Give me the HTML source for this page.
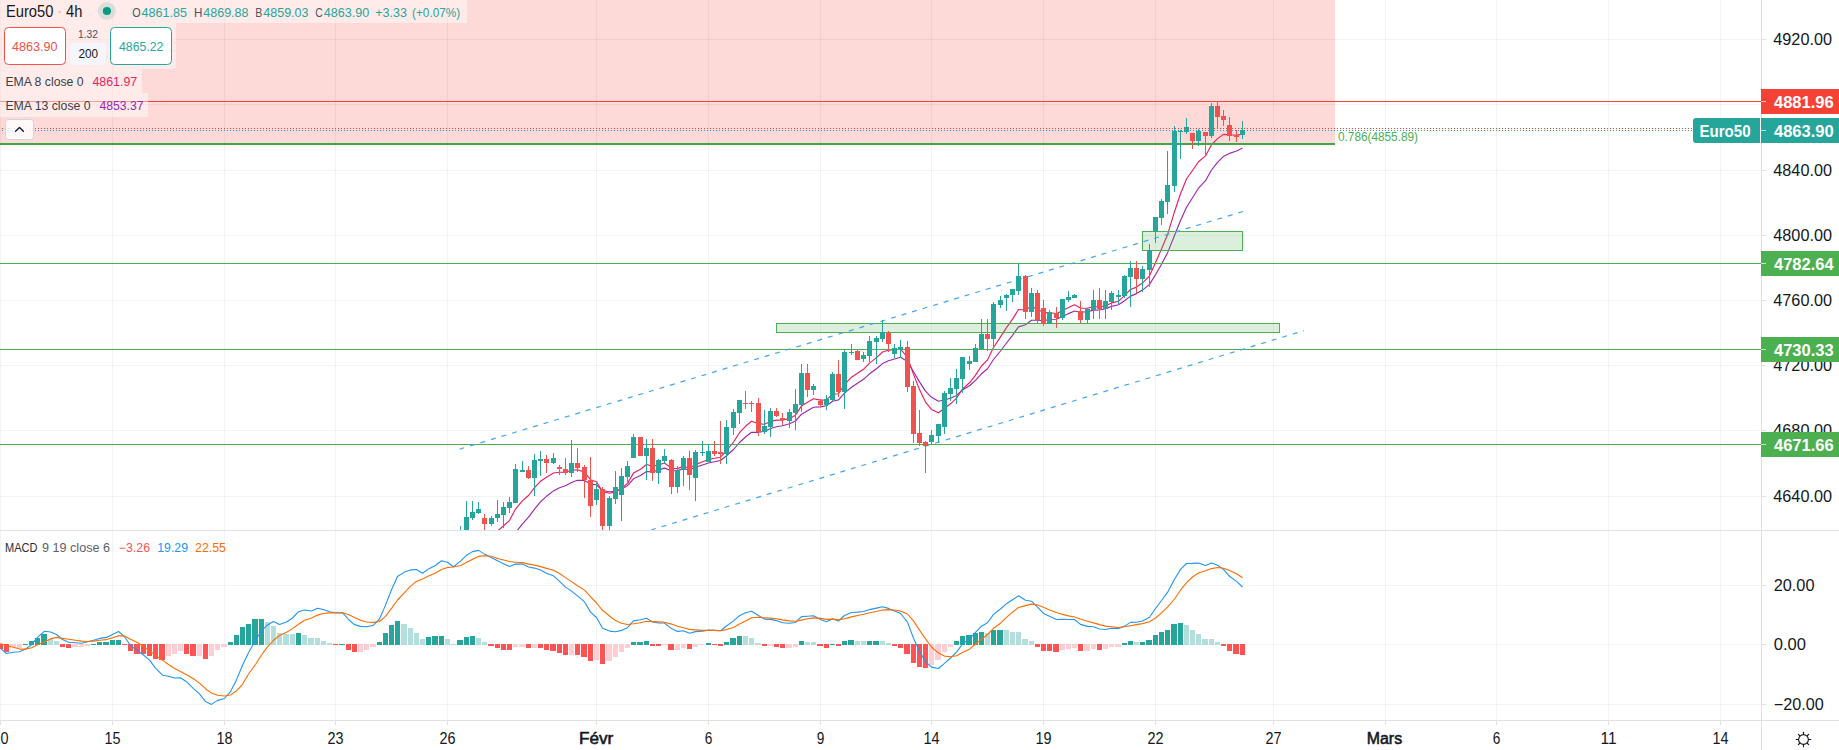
<!DOCTYPE html>
<html><head><meta charset="utf-8"><title>Euro50 4h</title>
<style>html,body{margin:0;padding:0;background:#fff;overflow:hidden}body{width:1839px;height:750px;font-family:"Liberation Sans",sans-serif}svg text{font-family:"Liberation Sans",sans-serif}</style>
</head><body>
<svg width="1839" height="750" viewBox="0 0 1839 750" font-family="Liberation Sans, sans-serif" style="display:block">
<rect width="1839" height="750" fill="#fff"/>
<rect x="0" y="0" width="1" height="720" fill="#2a2e39" fill-opacity="0.06"/>
<rect x="112" y="0" width="1" height="720" fill="#2a2e39" fill-opacity="0.06"/>
<rect x="224" y="0" width="1" height="720" fill="#2a2e39" fill-opacity="0.06"/>
<rect x="335" y="0" width="1" height="720" fill="#2a2e39" fill-opacity="0.06"/>
<rect x="447" y="0" width="1" height="720" fill="#2a2e39" fill-opacity="0.06"/>
<rect x="596" y="0" width="1" height="720" fill="#2a2e39" fill-opacity="0.06"/>
<rect x="708" y="0" width="1" height="720" fill="#2a2e39" fill-opacity="0.06"/>
<rect x="820" y="0" width="1" height="720" fill="#2a2e39" fill-opacity="0.06"/>
<rect x="931" y="0" width="1" height="720" fill="#2a2e39" fill-opacity="0.06"/>
<rect x="1043" y="0" width="1" height="720" fill="#2a2e39" fill-opacity="0.06"/>
<rect x="1155" y="0" width="1" height="720" fill="#2a2e39" fill-opacity="0.06"/>
<rect x="1273" y="0" width="1" height="720" fill="#2a2e39" fill-opacity="0.06"/>
<rect x="1385" y="0" width="1" height="720" fill="#2a2e39" fill-opacity="0.06"/>
<rect x="1496" y="0" width="1" height="720" fill="#2a2e39" fill-opacity="0.06"/>
<rect x="1608" y="0" width="1" height="720" fill="#2a2e39" fill-opacity="0.06"/>
<rect x="1720" y="0" width="1" height="720" fill="#2a2e39" fill-opacity="0.06"/>
<rect x="0" y="39" width="1761" height="1" fill="#2a2e39" fill-opacity="0.06"/>
<rect x="0" y="104" width="1761" height="1" fill="#2a2e39" fill-opacity="0.06"/>
<rect x="0" y="170" width="1761" height="1" fill="#2a2e39" fill-opacity="0.06"/>
<rect x="0" y="235" width="1761" height="1" fill="#2a2e39" fill-opacity="0.06"/>
<rect x="0" y="300" width="1761" height="1" fill="#2a2e39" fill-opacity="0.06"/>
<rect x="0" y="365" width="1761" height="1" fill="#2a2e39" fill-opacity="0.06"/>
<rect x="0" y="430" width="1761" height="1" fill="#2a2e39" fill-opacity="0.06"/>
<rect x="0" y="496" width="1761" height="1" fill="#2a2e39" fill-opacity="0.06"/>
<rect x="0" y="585" width="1761" height="1" fill="#2a2e39" fill-opacity="0.06"/>
<rect x="0" y="644" width="1761" height="1" fill="#2a2e39" fill-opacity="0.06"/>
<rect x="0" y="704" width="1761" height="1" fill="#2a2e39" fill-opacity="0.06"/>
<defs><clipPath id="p1"><rect x="0" y="0" width="1761" height="530"/></clipPath><clipPath id="p2"><rect x="0" y="531" width="1761" height="189"/></clipPath></defs>
<g clip-path="url(#p1)">
<rect x="0" y="0" width="1335" height="143" fill="#f44336" fill-opacity="0.2"/>
<polyline points="460.5,620.1 466.5,605.4 472.5,592.1 478.5,580.2 484.5,572.1 491.5,564.4 497.5,557.2 503.5,550.1 509.5,543.2 515.5,532.6 522.5,523.8 528.5,517.2 534.5,509.1 540.5,501.9 546.5,496.3 553.5,490.9 559.5,487.8 565.5,485.7 571.5,482.5 577.5,480.3 584.5,480.4 590.5,484.1 596.5,484.8 602.5,490.7 609.5,491.8 615.5,491.2 621.5,489.0 627.5,485.7 633.5,478.8 640.5,475.5 646.5,471.6 652.5,471.7 658.5,470.1 664.5,468.1 671.5,470.7 677.5,470.6 683.5,468.9 689.5,469.7 695.5,467.2 702.5,465.0 708.5,463.0 714.5,461.7 720.5,460.5 726.5,455.8 733.5,449.5 739.5,442.5 745.5,437.0 751.5,432.3 758.5,432.3 764.5,431.4 770.5,428.5 776.5,426.7 782.5,425.8 789.5,423.8 795.5,421.0 801.5,414.2 807.5,410.7 813.5,407.2 820.5,406.9 826.5,405.8 832.5,401.2 838.5,399.9 844.5,393.1 851.5,387.2 857.5,383.3 863.5,379.3 869.5,373.8 876.5,368.8 882.5,363.6 888.5,360.8 894.5,359.0 900.5,357.3 907.5,361.5 913.5,371.8 919.5,381.9 925.5,391.1 931.5,397.3 938.5,401.2 944.5,400.0 950.5,398.3 956.5,395.4 962.5,389.9 969.5,385.8 975.5,380.4 981.5,373.8 987.5,368.8 993.5,359.5 1000.5,351.0 1006.5,343.0 1012.5,335.3 1018.5,326.9 1025.5,324.7 1031.5,320.2 1037.5,320.2 1043.5,320.7 1049.5,319.5 1056.5,319.3 1062.5,316.4 1068.5,313.6 1074.5,311.0 1080.5,312.3 1087.5,311.8 1093.5,310.1 1099.5,310.0 1105.5,308.7 1111.5,306.4 1118.5,304.8 1124.5,300.7 1130.5,296.1 1136.5,293.6 1142.5,290.1 1149.5,284.4 1155.5,274.8 1161.5,264.2 1167.5,252.9 1174.5,235.5 1180.5,220.5 1186.5,207.2 1192.5,197.7 1198.5,188.2 1205.5,180.7 1211.5,170.0 1217.5,162.4 1223.5,156.3 1229.5,153.4 1236.5,151.0 1242.5,148.1" fill="none" stroke="#9c27b0" stroke-width="1.15" stroke-linejoin="round"/>
<polyline points="460.5,584.7 466.5,569.6 472.5,556.8 478.5,546.2 484.5,541.2 491.5,536.1 497.5,531.2 503.5,525.8 509.5,520.6 515.5,509.1 522.5,500.6 528.5,495.5 534.5,487.7 540.5,481.3 546.5,477.2 553.5,473.0 559.5,472.2 565.5,472.3 571.5,470.3 577.5,469.7 584.5,472.1 590.5,479.7 596.5,481.8 602.5,491.7 609.5,493.2 615.5,491.9 621.5,488.3 627.5,483.4 633.5,473.1 640.5,469.2 646.5,464.5 652.5,466.3 658.5,465.0 664.5,463.0 671.5,468.2 677.5,468.6 683.5,466.3 689.5,468.2 695.5,464.6 702.5,461.8 708.5,459.5 714.5,458.2 720.5,457.2 726.5,450.5 733.5,442.0 739.5,432.7 745.5,426.3 751.5,421.3 758.5,423.8 764.5,424.3 770.5,421.4 776.5,420.1 782.5,420.2 789.5,418.4 795.5,415.2 801.5,405.9 807.5,402.3 813.5,398.7 820.5,400.1 826.5,399.9 832.5,394.1 838.5,393.7 844.5,384.5 851.5,377.2 857.5,373.3 863.5,369.3 869.5,363.1 876.5,357.6 882.5,352.0 888.5,350.2 894.5,349.7 900.5,349.1 907.5,357.5 913.5,374.4 919.5,389.6 925.5,402.1 931.5,409.4 938.5,412.7 944.5,408.3 950.5,403.8 956.5,398.1 962.5,389.0 969.5,382.8 975.5,375.1 981.5,366.0 987.5,359.9 993.5,347.5 1000.5,336.9 1006.5,327.6 1012.5,319.1 1018.5,309.5 1025.5,310.0 1031.5,306.2 1037.5,309.3 1043.5,312.6 1049.5,312.5 1056.5,313.7 1062.5,310.4 1068.5,307.4 1074.5,304.7 1080.5,308.1 1087.5,308.3 1093.5,306.5 1099.5,307.1 1105.5,305.7 1111.5,302.9 1118.5,301.2 1124.5,295.6 1130.5,289.5 1136.5,287.1 1142.5,283.1 1149.5,275.8 1155.5,262.7 1161.5,249.0 1167.5,234.8 1174.5,211.7 1180.5,193.7 1186.5,179.0 1192.5,170.5 1198.5,161.7 1205.5,155.9 1211.5,144.8 1217.5,138.6 1223.5,134.4 1229.5,134.7 1236.5,135.2 1242.5,134.1" fill="none" stroke="#e91e63" stroke-width="1.15" stroke-linejoin="round"/>
<rect x="0" y="101" width="1761" height="1" fill="#f44336"/>
<rect x="0" y="143" width="1335" height="2" fill="#3fa845"/>
<rect x="0" y="263" width="1761" height="1" fill="#4caf50"/>
<rect x="0" y="349" width="1761" height="1" fill="#4caf50"/>
<rect x="0" y="444" width="1761" height="1" fill="#4caf50"/>
<rect x="776.5" y="323.5" width="503" height="9" fill="#4caf50" fill-opacity="0.2" stroke="#4caf50" stroke-width="1"/>
<rect x="1142.5" y="231.5" width="100" height="19" fill="#4caf50" fill-opacity="0.2" stroke="#4caf50" stroke-width="1"/>
<line x1="459.4" y1="449.2" x2="1243" y2="211.5" stroke="#42a5f5" stroke-width="1.2" stroke-dasharray="5 6"/>
<line x1="630" y1="536.4" x2="1304" y2="330.6" stroke="#42a5f5" stroke-width="1.2" stroke-dasharray="5 6" stroke-dashoffset="0"/>
<rect x="460" y="526" width="1" height="14" fill="#26a69a"/>
<rect x="458" y="531" width="5" height="9" fill="#26a69a"/>
<rect x="466" y="501" width="1" height="39" fill="#26a69a"/>
<rect x="464" y="517" width="5" height="18" fill="#26a69a"/>
<rect x="472" y="501" width="1" height="19" fill="#26a69a"/>
<rect x="470" y="512" width="5" height="6" fill="#26a69a"/>
<rect x="478" y="502" width="1" height="12" fill="#26a69a"/>
<rect x="476" y="509" width="5" height="4" fill="#26a69a"/>
<rect x="484" y="514" width="1" height="19" fill="#ef5350"/>
<rect x="482" y="518" width="5" height="6" fill="#ef5350"/>
<rect x="491" y="516" width="1" height="10" fill="#26a69a"/>
<rect x="489" y="518" width="5" height="6" fill="#26a69a"/>
<rect x="497" y="500" width="1" height="22" fill="#26a69a"/>
<rect x="495" y="514" width="5" height="4" fill="#26a69a"/>
<rect x="503" y="502" width="1" height="26" fill="#26a69a"/>
<rect x="501" y="507" width="5" height="8" fill="#26a69a"/>
<rect x="509" y="497" width="1" height="16" fill="#26a69a"/>
<rect x="507" y="502" width="5" height="6" fill="#26a69a"/>
<rect x="515" y="464" width="1" height="39" fill="#26a69a"/>
<rect x="513" y="469" width="5" height="34" fill="#26a69a"/>
<rect x="522" y="461" width="1" height="11" fill="#26a69a"/>
<rect x="520" y="470" width="5" height="2" fill="#26a69a"/>
<rect x="528" y="466" width="1" height="13" fill="#ef5350"/>
<rect x="526" y="470" width="5" height="8" fill="#ef5350"/>
<rect x="534" y="454" width="1" height="42" fill="#26a69a"/>
<rect x="532" y="460" width="5" height="18" fill="#26a69a"/>
<rect x="540" y="451" width="1" height="25" fill="#26a69a"/>
<rect x="538" y="459" width="5" height="2" fill="#26a69a"/>
<rect x="546" y="455" width="1" height="18" fill="#ef5350"/>
<rect x="544" y="459" width="5" height="4" fill="#ef5350"/>
<rect x="553" y="453" width="1" height="11" fill="#26a69a"/>
<rect x="551" y="458" width="5" height="5" fill="#26a69a"/>
<rect x="559" y="465" width="1" height="10" fill="#ef5350"/>
<rect x="557" y="467" width="5" height="2" fill="#ef5350"/>
<rect x="565" y="458" width="1" height="17" fill="#ef5350"/>
<rect x="563" y="469" width="5" height="4" fill="#ef5350"/>
<rect x="571" y="440" width="1" height="37" fill="#26a69a"/>
<rect x="569" y="463" width="5" height="10" fill="#26a69a"/>
<rect x="577" y="448" width="1" height="24" fill="#ef5350"/>
<rect x="575" y="463" width="5" height="5" fill="#ef5350"/>
<rect x="584" y="465" width="1" height="33" fill="#ef5350"/>
<rect x="582" y="467" width="5" height="13" fill="#ef5350"/>
<rect x="590" y="457" width="1" height="60" fill="#ef5350"/>
<rect x="588" y="480" width="5" height="26" fill="#ef5350"/>
<rect x="596" y="483" width="1" height="22" fill="#26a69a"/>
<rect x="594" y="489" width="5" height="11" fill="#26a69a"/>
<rect x="602" y="487" width="1" height="43" fill="#ef5350"/>
<rect x="600" y="489" width="5" height="37" fill="#ef5350"/>
<rect x="609" y="496" width="1" height="34" fill="#26a69a"/>
<rect x="607" y="498" width="5" height="28" fill="#26a69a"/>
<rect x="615" y="471" width="1" height="33" fill="#26a69a"/>
<rect x="613" y="487" width="5" height="12" fill="#26a69a"/>
<rect x="621" y="468" width="1" height="53" fill="#26a69a"/>
<rect x="619" y="476" width="5" height="19" fill="#26a69a"/>
<rect x="627" y="461" width="1" height="21" fill="#26a69a"/>
<rect x="625" y="466" width="5" height="11" fill="#26a69a"/>
<rect x="633" y="434" width="1" height="24" fill="#26a69a"/>
<rect x="631" y="437" width="5" height="21" fill="#26a69a"/>
<rect x="640" y="437" width="1" height="19" fill="#ef5350"/>
<rect x="638" y="437" width="5" height="19" fill="#ef5350"/>
<rect x="646" y="439" width="1" height="41" fill="#26a69a"/>
<rect x="644" y="448" width="5" height="8" fill="#26a69a"/>
<rect x="652" y="439" width="1" height="42" fill="#ef5350"/>
<rect x="650" y="448" width="5" height="25" fill="#ef5350"/>
<rect x="658" y="459" width="1" height="25" fill="#26a69a"/>
<rect x="656" y="460" width="5" height="13" fill="#26a69a"/>
<rect x="664" y="449" width="1" height="15" fill="#26a69a"/>
<rect x="662" y="456" width="5" height="5" fill="#26a69a"/>
<rect x="671" y="459" width="1" height="35" fill="#ef5350"/>
<rect x="669" y="460" width="5" height="27" fill="#ef5350"/>
<rect x="677" y="466" width="1" height="27" fill="#26a69a"/>
<rect x="675" y="470" width="5" height="17" fill="#26a69a"/>
<rect x="683" y="456" width="1" height="30" fill="#26a69a"/>
<rect x="681" y="458" width="5" height="12" fill="#26a69a"/>
<rect x="689" y="451" width="1" height="39" fill="#ef5350"/>
<rect x="687" y="458" width="5" height="17" fill="#ef5350"/>
<rect x="695" y="450" width="1" height="51" fill="#26a69a"/>
<rect x="693" y="452" width="5" height="26" fill="#26a69a"/>
<rect x="702" y="441" width="1" height="15" fill="#26a69a"/>
<rect x="700" y="452" width="5" height="1" fill="#26a69a"/>
<rect x="708" y="444" width="1" height="18" fill="#26a69a"/>
<rect x="706" y="451" width="5" height="11" fill="#26a69a"/>
<rect x="714" y="441" width="1" height="15" fill="#ef5350"/>
<rect x="712" y="451" width="5" height="3" fill="#ef5350"/>
<rect x="720" y="421" width="1" height="43" fill="#ef5350"/>
<rect x="718" y="452" width="5" height="2" fill="#ef5350"/>
<rect x="726" y="420" width="1" height="44" fill="#26a69a"/>
<rect x="724" y="427" width="5" height="27" fill="#26a69a"/>
<rect x="733" y="409" width="1" height="26" fill="#26a69a"/>
<rect x="731" y="412" width="5" height="16" fill="#26a69a"/>
<rect x="739" y="400" width="1" height="24" fill="#26a69a"/>
<rect x="737" y="400" width="5" height="13" fill="#26a69a"/>
<rect x="745" y="391" width="1" height="18" fill="#ef5350"/>
<rect x="743" y="403" width="5" height="1" fill="#ef5350"/>
<rect x="751" y="401" width="1" height="11" fill="#ef5350"/>
<rect x="749" y="403" width="5" height="1" fill="#ef5350"/>
<rect x="758" y="398" width="1" height="38" fill="#ef5350"/>
<rect x="756" y="403" width="5" height="29" fill="#ef5350"/>
<rect x="764" y="410" width="1" height="24" fill="#26a69a"/>
<rect x="762" y="426" width="5" height="6" fill="#26a69a"/>
<rect x="770" y="408" width="1" height="29" fill="#26a69a"/>
<rect x="768" y="411" width="5" height="16" fill="#26a69a"/>
<rect x="776" y="408" width="1" height="9" fill="#ef5350"/>
<rect x="774" y="411" width="5" height="5" fill="#ef5350"/>
<rect x="782" y="413" width="1" height="12" fill="#ef5350"/>
<rect x="780" y="418" width="5" height="2" fill="#ef5350"/>
<rect x="789" y="409" width="1" height="19" fill="#26a69a"/>
<rect x="787" y="412" width="5" height="9" fill="#26a69a"/>
<rect x="795" y="389" width="1" height="41" fill="#26a69a"/>
<rect x="793" y="404" width="5" height="9" fill="#26a69a"/>
<rect x="801" y="364" width="1" height="48" fill="#26a69a"/>
<rect x="799" y="373" width="5" height="32" fill="#26a69a"/>
<rect x="807" y="364" width="1" height="33" fill="#ef5350"/>
<rect x="805" y="373" width="5" height="17" fill="#ef5350"/>
<rect x="813" y="384" width="1" height="11" fill="#26a69a"/>
<rect x="811" y="386" width="5" height="4" fill="#26a69a"/>
<rect x="820" y="399" width="1" height="8" fill="#ef5350"/>
<rect x="818" y="401" width="5" height="4" fill="#ef5350"/>
<rect x="826" y="395" width="1" height="15" fill="#26a69a"/>
<rect x="824" y="399" width="5" height="6" fill="#26a69a"/>
<rect x="832" y="372" width="1" height="29" fill="#26a69a"/>
<rect x="830" y="374" width="5" height="26" fill="#26a69a"/>
<rect x="838" y="360" width="1" height="37" fill="#ef5350"/>
<rect x="836" y="374" width="5" height="18" fill="#ef5350"/>
<rect x="844" y="350" width="1" height="59" fill="#26a69a"/>
<rect x="842" y="352" width="5" height="40" fill="#26a69a"/>
<rect x="851" y="344" width="1" height="11" fill="#26a69a"/>
<rect x="849" y="352" width="5" height="1" fill="#26a69a"/>
<rect x="857" y="349" width="1" height="11" fill="#ef5350"/>
<rect x="855" y="351" width="5" height="9" fill="#ef5350"/>
<rect x="863" y="352" width="1" height="10" fill="#26a69a"/>
<rect x="861" y="355" width="5" height="4" fill="#26a69a"/>
<rect x="869" y="336" width="1" height="26" fill="#26a69a"/>
<rect x="867" y="341" width="5" height="15" fill="#26a69a"/>
<rect x="876" y="336" width="1" height="28" fill="#26a69a"/>
<rect x="874" y="338" width="5" height="4" fill="#26a69a"/>
<rect x="882" y="320" width="1" height="22" fill="#26a69a"/>
<rect x="880" y="332" width="5" height="7" fill="#26a69a"/>
<rect x="888" y="331" width="1" height="21" fill="#ef5350"/>
<rect x="886" y="333" width="5" height="11" fill="#ef5350"/>
<rect x="894" y="344" width="1" height="14" fill="#26a69a"/>
<rect x="892" y="348" width="5" height="6" fill="#26a69a"/>
<rect x="900" y="340" width="1" height="18" fill="#26a69a"/>
<rect x="898" y="347" width="5" height="2" fill="#26a69a"/>
<rect x="907" y="341" width="1" height="51" fill="#ef5350"/>
<rect x="905" y="347" width="5" height="40" fill="#ef5350"/>
<rect x="913" y="381" width="1" height="62" fill="#ef5350"/>
<rect x="911" y="386" width="5" height="48" fill="#ef5350"/>
<rect x="919" y="410" width="1" height="36" fill="#ef5350"/>
<rect x="917" y="433" width="5" height="10" fill="#ef5350"/>
<rect x="925" y="441" width="1" height="32" fill="#ef5350"/>
<rect x="923" y="442" width="5" height="4" fill="#ef5350"/>
<rect x="931" y="430" width="1" height="14" fill="#26a69a"/>
<rect x="929" y="435" width="5" height="7" fill="#26a69a"/>
<rect x="938" y="424" width="1" height="19" fill="#26a69a"/>
<rect x="936" y="424" width="5" height="12" fill="#26a69a"/>
<rect x="944" y="391" width="1" height="43" fill="#26a69a"/>
<rect x="942" y="393" width="5" height="34" fill="#26a69a"/>
<rect x="950" y="378" width="1" height="23" fill="#26a69a"/>
<rect x="948" y="388" width="5" height="6" fill="#26a69a"/>
<rect x="956" y="369" width="1" height="35" fill="#26a69a"/>
<rect x="954" y="378" width="5" height="11" fill="#26a69a"/>
<rect x="962" y="357" width="1" height="36" fill="#26a69a"/>
<rect x="960" y="357" width="5" height="22" fill="#26a69a"/>
<rect x="969" y="356" width="1" height="14" fill="#26a69a"/>
<rect x="967" y="361" width="5" height="3" fill="#26a69a"/>
<rect x="975" y="344" width="1" height="18" fill="#26a69a"/>
<rect x="973" y="348" width="5" height="14" fill="#26a69a"/>
<rect x="981" y="319" width="1" height="30" fill="#26a69a"/>
<rect x="979" y="334" width="5" height="15" fill="#26a69a"/>
<rect x="987" y="319" width="1" height="32" fill="#ef5350"/>
<rect x="985" y="334" width="5" height="5" fill="#ef5350"/>
<rect x="993" y="302" width="1" height="46" fill="#26a69a"/>
<rect x="991" y="304" width="5" height="35" fill="#26a69a"/>
<rect x="1000" y="296" width="1" height="12" fill="#26a69a"/>
<rect x="998" y="300" width="5" height="5" fill="#26a69a"/>
<rect x="1006" y="294" width="1" height="17" fill="#26a69a"/>
<rect x="1004" y="295" width="5" height="3" fill="#26a69a"/>
<rect x="1012" y="289" width="1" height="13" fill="#26a69a"/>
<rect x="1010" y="289" width="5" height="6" fill="#26a69a"/>
<rect x="1018" y="264" width="1" height="31" fill="#26a69a"/>
<rect x="1016" y="276" width="5" height="15" fill="#26a69a"/>
<rect x="1025" y="275" width="1" height="44" fill="#ef5350"/>
<rect x="1023" y="276" width="5" height="36" fill="#ef5350"/>
<rect x="1031" y="288" width="1" height="29" fill="#26a69a"/>
<rect x="1029" y="293" width="5" height="19" fill="#26a69a"/>
<rect x="1037" y="290" width="1" height="34" fill="#ef5350"/>
<rect x="1035" y="293" width="5" height="27" fill="#ef5350"/>
<rect x="1043" y="300" width="1" height="26" fill="#ef5350"/>
<rect x="1041" y="308" width="5" height="16" fill="#ef5350"/>
<rect x="1049" y="310" width="1" height="14" fill="#26a69a"/>
<rect x="1047" y="312" width="5" height="12" fill="#26a69a"/>
<rect x="1056" y="307" width="1" height="21" fill="#ef5350"/>
<rect x="1054" y="313" width="5" height="5" fill="#ef5350"/>
<rect x="1062" y="299" width="1" height="21" fill="#26a69a"/>
<rect x="1060" y="299" width="5" height="19" fill="#26a69a"/>
<rect x="1068" y="291" width="1" height="11" fill="#26a69a"/>
<rect x="1066" y="297" width="5" height="3" fill="#26a69a"/>
<rect x="1074" y="294" width="1" height="4" fill="#26a69a"/>
<rect x="1072" y="295" width="5" height="3" fill="#26a69a"/>
<rect x="1080" y="301" width="1" height="23" fill="#ef5350"/>
<rect x="1078" y="311" width="5" height="9" fill="#ef5350"/>
<rect x="1087" y="308" width="1" height="15" fill="#26a69a"/>
<rect x="1085" y="309" width="5" height="11" fill="#26a69a"/>
<rect x="1093" y="290" width="1" height="29" fill="#26a69a"/>
<rect x="1091" y="300" width="5" height="10" fill="#26a69a"/>
<rect x="1099" y="288" width="1" height="31" fill="#ef5350"/>
<rect x="1097" y="300" width="5" height="9" fill="#ef5350"/>
<rect x="1105" y="290" width="1" height="29" fill="#26a69a"/>
<rect x="1103" y="301" width="5" height="8" fill="#26a69a"/>
<rect x="1111" y="291" width="1" height="19" fill="#26a69a"/>
<rect x="1109" y="293" width="5" height="9" fill="#26a69a"/>
<rect x="1118" y="290" width="1" height="14" fill="#26a69a"/>
<rect x="1116" y="295" width="5" height="2" fill="#26a69a"/>
<rect x="1124" y="275" width="1" height="23" fill="#26a69a"/>
<rect x="1122" y="276" width="5" height="20" fill="#26a69a"/>
<rect x="1130" y="261" width="1" height="46" fill="#26a69a"/>
<rect x="1128" y="268" width="5" height="9" fill="#26a69a"/>
<rect x="1136" y="261" width="1" height="32" fill="#ef5350"/>
<rect x="1134" y="268" width="5" height="11" fill="#ef5350"/>
<rect x="1142" y="266" width="1" height="26" fill="#26a69a"/>
<rect x="1140" y="269" width="5" height="10" fill="#26a69a"/>
<rect x="1149" y="244" width="1" height="43" fill="#26a69a"/>
<rect x="1147" y="250" width="5" height="20" fill="#26a69a"/>
<rect x="1155" y="217" width="1" height="26" fill="#26a69a"/>
<rect x="1153" y="217" width="5" height="15" fill="#26a69a"/>
<rect x="1161" y="199" width="1" height="26" fill="#26a69a"/>
<rect x="1159" y="201" width="5" height="17" fill="#26a69a"/>
<rect x="1167" y="151" width="1" height="63" fill="#26a69a"/>
<rect x="1165" y="185" width="5" height="17" fill="#26a69a"/>
<rect x="1174" y="126" width="1" height="66" fill="#26a69a"/>
<rect x="1172" y="131" width="5" height="55" fill="#26a69a"/>
<rect x="1180" y="130" width="1" height="29" fill="#26a69a"/>
<rect x="1178" y="131" width="5" height="1" fill="#26a69a"/>
<rect x="1186" y="118" width="1" height="16" fill="#26a69a"/>
<rect x="1184" y="127" width="5" height="5" fill="#26a69a"/>
<rect x="1192" y="133" width="1" height="16" fill="#ef5350"/>
<rect x="1190" y="133" width="5" height="8" fill="#ef5350"/>
<rect x="1198" y="129" width="1" height="17" fill="#26a69a"/>
<rect x="1196" y="131" width="5" height="10" fill="#26a69a"/>
<rect x="1205" y="132" width="1" height="23" fill="#ef5350"/>
<rect x="1203" y="132" width="5" height="4" fill="#ef5350"/>
<rect x="1211" y="103" width="1" height="35" fill="#26a69a"/>
<rect x="1209" y="106" width="5" height="30" fill="#26a69a"/>
<rect x="1217" y="101" width="1" height="28" fill="#ef5350"/>
<rect x="1215" y="106" width="5" height="11" fill="#ef5350"/>
<rect x="1223" y="110" width="1" height="16" fill="#ef5350"/>
<rect x="1221" y="116" width="5" height="4" fill="#ef5350"/>
<rect x="1229" y="117" width="1" height="24" fill="#ef5350"/>
<rect x="1227" y="125" width="5" height="11" fill="#ef5350"/>
<rect x="1236" y="130" width="1" height="12" fill="#ef5350"/>
<rect x="1234" y="135" width="5" height="2" fill="#ef5350"/>
<rect x="1242" y="121" width="1" height="18" fill="#26a69a"/>
<rect x="1240" y="130" width="5" height="5" fill="#26a69a"/>
<line x1="2" y1="128.5" x2="1761" y2="128.5" stroke="#f44336" stroke-width="1" stroke-dasharray="1 2"/>
<line x1="2" y1="130.5" x2="1761" y2="130.5" stroke="#2196f3" stroke-width="1" stroke-dasharray="1 2"/>
</g>
<g clip-path="url(#p2)">
<rect x="-2" y="644" width="5" height="5" fill="#ff5252"/>
<rect x="4" y="644" width="5" height="8" fill="#ff5252"/>
<rect x="10" y="644" width="6" height="3" fill="#ffcdd2"/>
<rect x="17" y="644" width="5" height="4" fill="#ffcdd2"/>
<rect x="23" y="644" width="5" height="1" fill="#26a69a"/>
<rect x="29" y="641" width="5" height="4" fill="#26a69a"/>
<rect x="35" y="638" width="5" height="7" fill="#26a69a"/>
<rect x="41" y="634" width="6" height="11" fill="#26a69a"/>
<rect x="48" y="639" width="5" height="6" fill="#b2dfdb"/>
<rect x="54" y="641" width="5" height="4" fill="#b2dfdb"/>
<rect x="60" y="644" width="5" height="3" fill="#ff5252"/>
<rect x="66" y="644" width="5" height="4" fill="#ff5252"/>
<rect x="72" y="644" width="6" height="3" fill="#ffcdd2"/>
<rect x="79" y="644" width="5" height="3" fill="#ffcdd2"/>
<rect x="85" y="644" width="5" height="2" fill="#ffcdd2"/>
<rect x="91" y="644" width="5" height="1" fill="#26a69a"/>
<rect x="97" y="642" width="5" height="3" fill="#26a69a"/>
<rect x="103" y="642" width="6" height="3" fill="#26a69a"/>
<rect x="110" y="640" width="5" height="5" fill="#26a69a"/>
<rect x="116" y="640" width="5" height="5" fill="#26a69a"/>
<rect x="122" y="644" width="5" height="1" fill="#ff5252"/>
<rect x="128" y="644" width="5" height="7" fill="#ff5252"/>
<rect x="134" y="644" width="6" height="10" fill="#ff5252"/>
<rect x="141" y="644" width="5" height="10" fill="#ff5252"/>
<rect x="147" y="644" width="5" height="12" fill="#ff5252"/>
<rect x="153" y="644" width="5" height="15" fill="#ff5252"/>
<rect x="159" y="644" width="6" height="16" fill="#ff5252"/>
<rect x="166" y="644" width="5" height="12" fill="#ffcdd2"/>
<rect x="172" y="644" width="5" height="10" fill="#ffcdd2"/>
<rect x="178" y="644" width="5" height="7" fill="#ffcdd2"/>
<rect x="184" y="644" width="5" height="10" fill="#ff5252"/>
<rect x="190" y="644" width="6" height="12" fill="#ff5252"/>
<rect x="197" y="644" width="5" height="12" fill="#ffcdd2"/>
<rect x="203" y="644" width="5" height="15" fill="#ff5252"/>
<rect x="209" y="644" width="5" height="12" fill="#ffcdd2"/>
<rect x="215" y="644" width="5" height="6" fill="#ffcdd2"/>
<rect x="221" y="644" width="6" height="3" fill="#ffcdd2"/>
<rect x="228" y="642" width="5" height="3" fill="#26a69a"/>
<rect x="234" y="635" width="5" height="10" fill="#26a69a"/>
<rect x="240" y="627" width="5" height="18" fill="#26a69a"/>
<rect x="246" y="624" width="5" height="21" fill="#26a69a"/>
<rect x="252" y="619" width="6" height="26" fill="#26a69a"/>
<rect x="259" y="619" width="5" height="26" fill="#26a69a"/>
<rect x="265" y="622" width="5" height="23" fill="#b2dfdb"/>
<rect x="271" y="626" width="5" height="19" fill="#b2dfdb"/>
<rect x="277" y="633" width="5" height="12" fill="#b2dfdb"/>
<rect x="283" y="634" width="6" height="11" fill="#b2dfdb"/>
<rect x="290" y="634" width="5" height="11" fill="#b2dfdb"/>
<rect x="296" y="633" width="5" height="12" fill="#26a69a"/>
<rect x="302" y="635" width="5" height="10" fill="#b2dfdb"/>
<rect x="308" y="638" width="6" height="7" fill="#b2dfdb"/>
<rect x="315" y="638" width="5" height="7" fill="#b2dfdb"/>
<rect x="321" y="641" width="5" height="4" fill="#b2dfdb"/>
<rect x="327" y="643" width="5" height="2" fill="#b2dfdb"/>
<rect x="333" y="644" width="5" height="1" fill="#ff5252"/>
<rect x="339" y="644" width="6" height="1" fill="#26a69a"/>
<rect x="346" y="644" width="5" height="6" fill="#ff5252"/>
<rect x="352" y="644" width="5" height="8" fill="#ff5252"/>
<rect x="358" y="644" width="5" height="8" fill="#ffcdd2"/>
<rect x="364" y="644" width="5" height="6" fill="#ffcdd2"/>
<rect x="370" y="644" width="6" height="3" fill="#ffcdd2"/>
<rect x="377" y="642" width="5" height="3" fill="#26a69a"/>
<rect x="383" y="633" width="5" height="12" fill="#26a69a"/>
<rect x="389" y="625" width="5" height="20" fill="#26a69a"/>
<rect x="395" y="621" width="5" height="24" fill="#26a69a"/>
<rect x="401" y="624" width="6" height="21" fill="#b2dfdb"/>
<rect x="408" y="628" width="5" height="17" fill="#b2dfdb"/>
<rect x="414" y="633" width="5" height="12" fill="#b2dfdb"/>
<rect x="420" y="639" width="5" height="6" fill="#b2dfdb"/>
<rect x="426" y="637" width="5" height="8" fill="#26a69a"/>
<rect x="432" y="636" width="6" height="9" fill="#26a69a"/>
<rect x="439" y="636" width="5" height="9" fill="#26a69a"/>
<rect x="445" y="639" width="5" height="6" fill="#b2dfdb"/>
<rect x="451" y="644" width="5" height="1" fill="#b2dfdb"/>
<rect x="457" y="640" width="6" height="5" fill="#26a69a"/>
<rect x="464" y="637" width="5" height="8" fill="#26a69a"/>
<rect x="470" y="636" width="5" height="9" fill="#26a69a"/>
<rect x="476" y="638" width="5" height="7" fill="#b2dfdb"/>
<rect x="482" y="642" width="5" height="3" fill="#b2dfdb"/>
<rect x="488" y="644" width="6" height="2" fill="#ff5252"/>
<rect x="495" y="644" width="5" height="4" fill="#ff5252"/>
<rect x="501" y="644" width="5" height="6" fill="#ff5252"/>
<rect x="507" y="644" width="5" height="6" fill="#ff5252"/>
<rect x="513" y="644" width="5" height="3" fill="#ffcdd2"/>
<rect x="519" y="644" width="6" height="3" fill="#ffcdd2"/>
<rect x="526" y="644" width="5" height="4" fill="#ff5252"/>
<rect x="532" y="644" width="5" height="4" fill="#ffcdd2"/>
<rect x="538" y="644" width="5" height="4" fill="#ff5252"/>
<rect x="544" y="644" width="5" height="6" fill="#ff5252"/>
<rect x="550" y="644" width="6" height="7" fill="#ff5252"/>
<rect x="557" y="644" width="5" height="9" fill="#ff5252"/>
<rect x="563" y="644" width="5" height="11" fill="#ff5252"/>
<rect x="569" y="644" width="5" height="11" fill="#ffcdd2"/>
<rect x="575" y="644" width="5" height="11" fill="#ff5252"/>
<rect x="581" y="644" width="6" height="13" fill="#ff5252"/>
<rect x="588" y="644" width="5" height="17" fill="#ff5252"/>
<rect x="594" y="644" width="5" height="16" fill="#ffcdd2"/>
<rect x="600" y="644" width="5" height="20" fill="#ff5252"/>
<rect x="606" y="644" width="6" height="17" fill="#ffcdd2"/>
<rect x="613" y="644" width="5" height="13" fill="#ffcdd2"/>
<rect x="619" y="644" width="5" height="8" fill="#ffcdd2"/>
<rect x="625" y="644" width="5" height="4" fill="#ffcdd2"/>
<rect x="631" y="642" width="5" height="3" fill="#26a69a"/>
<rect x="637" y="642" width="6" height="3" fill="#26a69a"/>
<rect x="644" y="641" width="5" height="4" fill="#26a69a"/>
<rect x="650" y="644" width="5" height="2" fill="#ff5252"/>
<rect x="656" y="644" width="5" height="2" fill="#ff5252"/>
<rect x="662" y="644" width="5" height="1" fill="#ffcdd2"/>
<rect x="668" y="644" width="6" height="6" fill="#ff5252"/>
<rect x="675" y="644" width="5" height="6" fill="#ffcdd2"/>
<rect x="681" y="644" width="5" height="4" fill="#ffcdd2"/>
<rect x="687" y="644" width="5" height="5" fill="#ff5252"/>
<rect x="693" y="644" width="5" height="3" fill="#ffcdd2"/>
<rect x="699" y="644" width="6" height="1" fill="#ffcdd2"/>
<rect x="706" y="643" width="5" height="2" fill="#26a69a"/>
<rect x="712" y="644" width="5" height="1" fill="#ff5252"/>
<rect x="718" y="644" width="5" height="2" fill="#ff5252"/>
<rect x="724" y="642" width="5" height="3" fill="#26a69a"/>
<rect x="730" y="638" width="6" height="7" fill="#26a69a"/>
<rect x="737" y="636" width="5" height="9" fill="#26a69a"/>
<rect x="743" y="636" width="5" height="9" fill="#b2dfdb"/>
<rect x="749" y="638" width="5" height="7" fill="#b2dfdb"/>
<rect x="755" y="643" width="6" height="2" fill="#b2dfdb"/>
<rect x="762" y="644" width="5" height="2" fill="#ff5252"/>
<rect x="768" y="644" width="5" height="2" fill="#ffcdd2"/>
<rect x="774" y="644" width="5" height="3" fill="#ff5252"/>
<rect x="780" y="644" width="5" height="4" fill="#ff5252"/>
<rect x="786" y="644" width="6" height="4" fill="#ffcdd2"/>
<rect x="793" y="644" width="5" height="3" fill="#ffcdd2"/>
<rect x="799" y="641" width="5" height="4" fill="#26a69a"/>
<rect x="805" y="642" width="5" height="3" fill="#b2dfdb"/>
<rect x="811" y="642" width="5" height="3" fill="#b2dfdb"/>
<rect x="817" y="644" width="6" height="2" fill="#ff5252"/>
<rect x="824" y="644" width="5" height="4" fill="#ff5252"/>
<rect x="830" y="644" width="5" height="1" fill="#26a69a"/>
<rect x="836" y="644" width="5" height="2" fill="#ff5252"/>
<rect x="842" y="641" width="5" height="4" fill="#26a69a"/>
<rect x="848" y="640" width="6" height="5" fill="#26a69a"/>
<rect x="855" y="641" width="5" height="4" fill="#b2dfdb"/>
<rect x="861" y="641" width="5" height="4" fill="#b2dfdb"/>
<rect x="867" y="641" width="5" height="4" fill="#26a69a"/>
<rect x="873" y="641" width="6" height="4" fill="#26a69a"/>
<rect x="880" y="641" width="5" height="4" fill="#b2dfdb"/>
<rect x="886" y="643" width="5" height="2" fill="#b2dfdb"/>
<rect x="892" y="644" width="5" height="2" fill="#ff5252"/>
<rect x="898" y="644" width="5" height="4" fill="#ff5252"/>
<rect x="904" y="644" width="6" height="10" fill="#ff5252"/>
<rect x="911" y="644" width="5" height="19" fill="#ff5252"/>
<rect x="917" y="644" width="5" height="23" fill="#ff5252"/>
<rect x="923" y="644" width="5" height="24" fill="#ff5252"/>
<rect x="929" y="644" width="5" height="21" fill="#ffcdd2"/>
<rect x="935" y="644" width="6" height="16" fill="#ffcdd2"/>
<rect x="942" y="644" width="5" height="8" fill="#ffcdd2"/>
<rect x="948" y="644" width="5" height="3" fill="#ffcdd2"/>
<rect x="954" y="641" width="5" height="4" fill="#26a69a"/>
<rect x="960" y="636" width="5" height="9" fill="#26a69a"/>
<rect x="966" y="635" width="6" height="10" fill="#26a69a"/>
<rect x="973" y="633" width="5" height="12" fill="#26a69a"/>
<rect x="979" y="632" width="5" height="13" fill="#26a69a"/>
<rect x="985" y="633" width="5" height="12" fill="#b2dfdb"/>
<rect x="991" y="630" width="5" height="15" fill="#26a69a"/>
<rect x="997" y="630" width="6" height="15" fill="#26a69a"/>
<rect x="1004" y="630" width="5" height="15" fill="#b2dfdb"/>
<rect x="1010" y="632" width="5" height="13" fill="#b2dfdb"/>
<rect x="1016" y="632" width="5" height="13" fill="#b2dfdb"/>
<rect x="1022" y="639" width="6" height="6" fill="#b2dfdb"/>
<rect x="1029" y="641" width="5" height="4" fill="#b2dfdb"/>
<rect x="1035" y="644" width="5" height="3" fill="#ff5252"/>
<rect x="1041" y="644" width="5" height="7" fill="#ff5252"/>
<rect x="1047" y="644" width="5" height="7" fill="#ff5252"/>
<rect x="1053" y="644" width="6" height="8" fill="#ff5252"/>
<rect x="1060" y="644" width="5" height="6" fill="#ffcdd2"/>
<rect x="1066" y="644" width="5" height="5" fill="#ffcdd2"/>
<rect x="1072" y="644" width="5" height="4" fill="#ffcdd2"/>
<rect x="1078" y="644" width="5" height="7" fill="#ff5252"/>
<rect x="1084" y="644" width="6" height="7" fill="#ffcdd2"/>
<rect x="1091" y="644" width="5" height="5" fill="#ffcdd2"/>
<rect x="1097" y="644" width="5" height="6" fill="#ff5252"/>
<rect x="1103" y="644" width="5" height="5" fill="#ffcdd2"/>
<rect x="1109" y="644" width="5" height="3" fill="#ffcdd2"/>
<rect x="1115" y="644" width="6" height="3" fill="#ffcdd2"/>
<rect x="1122" y="643" width="5" height="2" fill="#26a69a"/>
<rect x="1128" y="641" width="5" height="4" fill="#26a69a"/>
<rect x="1134" y="642" width="5" height="3" fill="#b2dfdb"/>
<rect x="1140" y="642" width="5" height="3" fill="#26a69a"/>
<rect x="1146" y="640" width="6" height="5" fill="#26a69a"/>
<rect x="1153" y="635" width="5" height="10" fill="#26a69a"/>
<rect x="1159" y="632" width="5" height="13" fill="#26a69a"/>
<rect x="1165" y="630" width="5" height="15" fill="#26a69a"/>
<rect x="1171" y="624" width="6" height="21" fill="#26a69a"/>
<rect x="1178" y="623" width="5" height="22" fill="#26a69a"/>
<rect x="1184" y="625" width="5" height="20" fill="#b2dfdb"/>
<rect x="1190" y="630" width="5" height="15" fill="#b2dfdb"/>
<rect x="1196" y="634" width="5" height="11" fill="#b2dfdb"/>
<rect x="1202" y="639" width="6" height="6" fill="#b2dfdb"/>
<rect x="1209" y="639" width="5" height="6" fill="#b2dfdb"/>
<rect x="1215" y="642" width="5" height="3" fill="#b2dfdb"/>
<rect x="1221" y="644" width="5" height="2" fill="#ff5252"/>
<rect x="1227" y="644" width="5" height="7" fill="#ff5252"/>
<rect x="1233" y="644" width="6" height="10" fill="#ff5252"/>
<rect x="1240" y="644" width="5" height="11" fill="#ff5252"/>
<polyline points="0.5,648.4 6.5,653.5 13.5,652.3 19.5,651.8 25.5,649.1 31.5,644.7 37.5,637.4 44.5,631.2 50.5,632.0 56.5,634.5 62.5,639.6 68.5,642.2 75.5,642.8 81.5,643.3 87.5,641.8 93.5,640.3 99.5,638.4 106.5,637.4 112.5,634.5 118.5,631.5 124.5,636.7 130.5,645.5 137.5,650.6 143.5,655.0 149.5,660.1 155.5,668.2 162.5,675.2 168.5,676.2 174.5,678.0 180.5,677.7 186.5,681.7 193.5,688.7 199.5,693.8 205.5,701.6 211.5,704.4 217.5,700.4 224.5,698.5 230.5,691.6 236.5,679.9 242.5,665.2 248.5,652.8 255.5,640.3 261.5,630.8 267.5,624.9 273.5,621.5 279.5,624.6 286.5,622.0 292.5,618.0 298.5,611.7 304.5,610.0 311.5,611.0 317.5,608.3 323.5,609.5 329.5,611.7 335.5,612.9 342.5,612.7 348.5,619.5 354.5,624.6 360.5,626.4 366.5,626.8 373.5,625.2 379.5,619.0 385.5,605.1 391.5,589.7 397.5,576.5 404.5,572.1 410.5,569.9 416.5,569.5 422.5,573.2 428.5,568.9 435.5,565.5 441.5,560.7 447.5,562.3 453.5,566.7 460.5,561.1 466.5,555.3 472.5,551.6 478.5,550.4 484.5,554.1 491.5,557.8 497.5,560.7 503.5,563.7 509.5,566.6 515.5,564.1 522.5,564.1 528.5,567.0 534.5,568.1 540.5,570.0 546.5,573.2 553.5,575.8 559.5,581.3 565.5,587.1 571.5,591.1 577.5,595.9 584.5,601.8 590.5,612.1 596.5,617.5 602.5,628.2 609.5,631.1 615.5,631.8 621.5,630.4 627.5,627.7 633.5,620.9 640.5,619.8 646.5,618.2 652.5,621.9 658.5,623.0 664.5,623.0 671.5,628.6 677.5,631.4 683.5,630.8 689.5,633.3 695.5,631.6 702.5,631.1 708.5,630.1 714.5,630.4 720.5,630.8 726.5,626.0 733.5,620.9 739.5,615.7 745.5,612.8 751.5,611.3 758.5,615.5 764.5,619.1 770.5,619.4 776.5,620.6 782.5,622.8 789.5,623.2 795.5,622.5 801.5,616.6 807.5,616.2 813.5,615.7 820.5,619.6 826.5,621.8 832.5,618.7 838.5,621.0 844.5,615.5 851.5,612.5 857.5,612.1 863.5,611.5 869.5,609.6 876.5,608.1 882.5,606.7 888.5,608.4 894.5,611.1 900.5,613.5 907.5,622.1 913.5,638.2 919.5,651.4 925.5,661.6 931.5,667.1 938.5,668.5 944.5,663.4 950.5,658.0 956.5,652.1 962.5,644.0 969.5,638.9 975.5,632.3 981.5,626.2 987.5,622.8 993.5,614.4 1000.5,609.0 1006.5,603.7 1012.5,599.7 1018.5,595.8 1025.5,600.2 1031.5,601.2 1037.5,607.1 1043.5,613.4 1049.5,616.3 1056.5,619.5 1062.5,619.2 1068.5,619.5 1074.5,619.5 1080.5,624.4 1087.5,626.4 1093.5,626.8 1099.5,629.0 1105.5,629.5 1111.5,628.3 1118.5,628.6 1124.5,626.1 1130.5,622.4 1136.5,622.2 1142.5,621.0 1149.5,617.3 1155.5,608.5 1161.5,600.5 1167.5,592.4 1174.5,579.2 1180.5,569.4 1186.5,563.5 1192.5,563.4 1198.5,563.1 1205.5,565.6 1211.5,563.1 1217.5,565.3 1223.5,569.4 1229.5,576.3 1236.5,581.4 1242.5,587.0" fill="none" stroke="#2196f3" stroke-width="1.1" stroke-linejoin="round"/>
<polyline points="0.5,643.5 6.5,645.7 13.5,647.2 19.5,649.1 25.5,649.1 31.5,647.7 37.5,644.7 44.5,641.8 50.5,638.9 56.5,637.4 62.5,638.4 68.5,639.3 75.5,640.3 81.5,641.1 87.5,641.5 93.5,641.1 99.5,640.3 106.5,639.6 112.5,637.7 118.5,635.9 124.5,635.9 130.5,639.3 137.5,642.5 143.5,646.6 149.5,650.6 155.5,655.4 162.5,660.1 168.5,664.5 174.5,668.5 180.5,671.4 186.5,674.8 193.5,678.7 199.5,683.1 205.5,688.7 211.5,693.1 217.5,695.3 224.5,696.0 230.5,695.0 236.5,690.9 242.5,684.3 248.5,674.0 255.5,664.5 261.5,655.0 267.5,646.9 273.5,640.3 279.5,635.5 286.5,632.2 292.5,628.6 298.5,624.2 304.5,620.2 311.5,617.9 317.5,615.1 323.5,613.5 329.5,612.9 335.5,612.7 342.5,612.7 348.5,614.6 354.5,617.6 360.5,620.2 366.5,622.0 373.5,622.4 379.5,621.5 385.5,616.4 391.5,608.3 397.5,600.0 404.5,592.7 410.5,586.1 416.5,581.4 422.5,579.0 428.5,576.1 435.5,572.9 441.5,569.6 447.5,567.4 453.5,567.0 460.5,565.5 466.5,562.6 472.5,559.2 478.5,556.4 484.5,555.7 491.5,556.3 497.5,558.5 503.5,560.0 509.5,561.5 515.5,562.2 522.5,562.6 528.5,564.1 534.5,565.1 540.5,566.6 546.5,568.4 553.5,570.3 559.5,573.5 565.5,577.6 571.5,581.6 577.5,585.7 584.5,590.1 590.5,596.7 596.5,603.0 602.5,610.3 609.5,616.0 615.5,620.6 621.5,623.3 627.5,624.5 633.5,623.8 640.5,622.8 646.5,621.3 652.5,621.6 658.5,621.9 664.5,622.3 671.5,624.1 677.5,626.3 683.5,627.7 689.5,629.4 695.5,629.9 702.5,630.4 708.5,630.4 714.5,630.4 720.5,630.7 726.5,629.6 733.5,627.4 739.5,624.0 745.5,621.0 751.5,617.7 758.5,617.2 764.5,617.7 770.5,618.1 776.5,618.8 782.5,619.9 789.5,620.9 795.5,621.3 801.5,620.1 807.5,618.8 813.5,617.9 820.5,618.4 826.5,619.4 832.5,619.1 838.5,619.9 844.5,618.7 851.5,616.9 857.5,615.5 863.5,614.3 869.5,612.8 876.5,611.5 882.5,610.0 888.5,609.6 894.5,610.0 900.5,611.1 907.5,614.0 913.5,620.9 919.5,630.1 925.5,638.9 931.5,647.0 938.5,653.1 944.5,656.1 950.5,656.8 956.5,655.8 962.5,652.4 969.5,649.2 975.5,644.0 981.5,639.2 987.5,634.5 993.5,628.3 1000.5,623.2 1006.5,617.3 1012.5,612.2 1018.5,607.5 1025.5,605.6 1031.5,604.1 1037.5,604.9 1043.5,607.3 1049.5,610.0 1056.5,612.5 1062.5,614.4 1068.5,615.9 1074.5,617.0 1080.5,619.1 1087.5,621.3 1093.5,622.9 1099.5,624.6 1105.5,626.1 1111.5,626.8 1118.5,627.6 1124.5,626.8 1130.5,625.7 1136.5,624.6 1142.5,623.6 1149.5,621.7 1155.5,618.0 1161.5,612.9 1167.5,607.1 1174.5,599.0 1180.5,590.2 1186.5,582.6 1192.5,577.0 1198.5,573.0 1205.5,570.8 1211.5,568.6 1217.5,567.5 1223.5,568.2 1229.5,570.4 1236.5,573.8 1242.5,577.7" fill="none" stroke="#ff6d00" stroke-width="1.1" stroke-linejoin="round"/>
</g>
<rect x="0" y="530" width="1839" height="1" fill="#e0e2e6"/>
<rect x="1761" y="0" width="1" height="750" fill="#e0e1e5"/>
<rect x="0" y="720" width="1839" height="1" fill="#e0e1e5"/>
<rect x="0" y="720" width="1" height="5" fill="#e0e1e5"/>
<rect x="112" y="720" width="1" height="5" fill="#e0e1e5"/>
<rect x="224" y="720" width="1" height="5" fill="#e0e1e5"/>
<rect x="335" y="720" width="1" height="5" fill="#e0e1e5"/>
<rect x="447" y="720" width="1" height="5" fill="#e0e1e5"/>
<rect x="596" y="720" width="1" height="5" fill="#e0e1e5"/>
<rect x="708" y="720" width="1" height="5" fill="#e0e1e5"/>
<rect x="820" y="720" width="1" height="5" fill="#e0e1e5"/>
<rect x="931" y="720" width="1" height="5" fill="#e0e1e5"/>
<rect x="1043" y="720" width="1" height="5" fill="#e0e1e5"/>
<rect x="1155" y="720" width="1" height="5" fill="#e0e1e5"/>
<rect x="1273" y="720" width="1" height="5" fill="#e0e1e5"/>
<rect x="1385" y="720" width="1" height="5" fill="#e0e1e5"/>
<rect x="1496" y="720" width="1" height="5" fill="#e0e1e5"/>
<rect x="1608" y="720" width="1" height="5" fill="#e0e1e5"/>
<rect x="1720" y="720" width="1" height="5" fill="#e0e1e5"/>
<rect x="1761" y="39" width="5" height="1" fill="#e0e1e5"/>
<rect x="1761" y="170" width="5" height="1" fill="#e0e1e5"/>
<rect x="1761" y="235" width="5" height="1" fill="#e0e1e5"/>
<rect x="1761" y="300" width="5" height="1" fill="#e0e1e5"/>
<rect x="1761" y="365" width="5" height="1" fill="#e0e1e5"/>
<rect x="1761" y="430" width="5" height="1" fill="#e0e1e5"/>
<rect x="1761" y="496" width="5" height="1" fill="#e0e1e5"/>
<rect x="1761" y="585" width="5" height="1" fill="#e0e1e5"/>
<rect x="1761" y="644" width="5" height="1" fill="#e0e1e5"/>
<rect x="1761" y="704" width="5" height="1" fill="#e0e1e5"/>
<text x="1773.3" y="45.0" font-size="16" fill="#131722" font-weight="normal" textLength="58.7" lengthAdjust="spacingAndGlyphs" >4920.00</text>
<text x="1773.3" y="176.0" font-size="16" fill="#131722" font-weight="normal" textLength="58.7" lengthAdjust="spacingAndGlyphs" >4840.00</text>
<text x="1773.3" y="241.0" font-size="16" fill="#131722" font-weight="normal" textLength="58.7" lengthAdjust="spacingAndGlyphs" >4800.00</text>
<text x="1773.3" y="306.0" font-size="16" fill="#131722" font-weight="normal" textLength="58.7" lengthAdjust="spacingAndGlyphs" >4760.00</text>
<text x="1773.3" y="371.0" font-size="16" fill="#131722" font-weight="normal" textLength="58.7" lengthAdjust="spacingAndGlyphs" >4720.00</text>
<text x="1773.3" y="436.0" font-size="16" fill="#131722" font-weight="normal" textLength="58.7" lengthAdjust="spacingAndGlyphs" >4680.00</text>
<text x="1773.3" y="502.0" font-size="16" fill="#131722" font-weight="normal" textLength="58.7" lengthAdjust="spacingAndGlyphs" >4640.00</text>
<text x="1773.7" y="591.0" font-size="16" fill="#131722" font-weight="normal" textLength="40.8" lengthAdjust="spacingAndGlyphs" >20.00</text>
<text x="1773.7" y="650.0" font-size="16" fill="#131722" font-weight="normal" textLength="32.2" lengthAdjust="spacingAndGlyphs" >0.00</text>
<text x="1773.7" y="710.0" font-size="16" fill="#131722" font-weight="normal" textLength="50.0" lengthAdjust="spacingAndGlyphs" >−20.00</text>
<rect x="1761" y="89.0" width="78" height="25" fill="#f44336"/>
<rect x="1761" y="101.0" width="5" height="1" fill="#fff" fill-opacity="0.7"/>
<text x="1774.0" y="107.9" font-size="16" fill="#fff" font-weight="bold" textLength="59.6" lengthAdjust="spacingAndGlyphs" >4881.96</text>
<rect x="1761" y="251.0" width="78" height="25" fill="#4caf50"/>
<rect x="1761" y="263.0" width="5" height="1" fill="#fff" fill-opacity="0.7"/>
<text x="1774.0" y="269.9" font-size="16" fill="#fff" font-weight="bold" textLength="59.6" lengthAdjust="spacingAndGlyphs" >4782.64</text>
<rect x="1761" y="337.0" width="78" height="25" fill="#4caf50"/>
<rect x="1761" y="349.0" width="5" height="1" fill="#fff" fill-opacity="0.7"/>
<text x="1774.0" y="355.9" font-size="16" fill="#fff" font-weight="bold" textLength="59.6" lengthAdjust="spacingAndGlyphs" >4730.33</text>
<rect x="1761" y="432.0" width="78" height="25" fill="#4caf50"/>
<rect x="1761" y="444.0" width="5" height="1" fill="#fff" fill-opacity="0.7"/>
<text x="1774.0" y="450.9" font-size="16" fill="#fff" font-weight="bold" textLength="59.6" lengthAdjust="spacingAndGlyphs" >4671.66</text>
<rect x="1761" y="118.0" width="78" height="25" fill="#26a69a"/>
<rect x="1761" y="130.0" width="5" height="1" fill="#fff" fill-opacity="0.7"/>
<text x="1774.0" y="136.9" font-size="16" fill="#fff" font-weight="bold" textLength="59.6" lengthAdjust="spacingAndGlyphs" >4863.90</text>
<rect x="1760" y="118" width="1" height="25" fill="#fff"/>
<path d="M1696,118 H1760 V143 H1696 a3,3 0 0 1 -3,-3 V121 a3,3 0 0 1 3,-3 Z" fill="#26a69a"/>
<text x="1699.5" y="136.8" font-size="16" fill="#fff" font-weight="bold" textLength="51.1" lengthAdjust="spacingAndGlyphs" >Euro50</text>
<text x="104.5" y="744.0" font-size="16" fill="#131722" font-weight="normal" textLength="16.0" lengthAdjust="spacingAndGlyphs" >15</text>
<text x="216.5" y="744.0" font-size="16" fill="#131722" font-weight="normal" textLength="16.0" lengthAdjust="spacingAndGlyphs" >18</text>
<text x="327.5" y="744.0" font-size="16" fill="#131722" font-weight="normal" textLength="16.0" lengthAdjust="spacingAndGlyphs" >23</text>
<text x="439.5" y="744.0" font-size="16" fill="#131722" font-weight="normal" textLength="16.0" lengthAdjust="spacingAndGlyphs" >26</text>
<text x="704.7" y="744.0" font-size="16" fill="#131722" font-weight="normal" textLength="7.6" lengthAdjust="spacingAndGlyphs" >6</text>
<text x="816.7" y="744.0" font-size="16" fill="#131722" font-weight="normal" textLength="7.6" lengthAdjust="spacingAndGlyphs" >9</text>
<text x="923.5" y="744.0" font-size="16" fill="#131722" font-weight="normal" textLength="16.0" lengthAdjust="spacingAndGlyphs" >14</text>
<text x="1035.5" y="744.0" font-size="16" fill="#131722" font-weight="normal" textLength="16.0" lengthAdjust="spacingAndGlyphs" >19</text>
<text x="1147.5" y="744.0" font-size="16" fill="#131722" font-weight="normal" textLength="16.0" lengthAdjust="spacingAndGlyphs" >22</text>
<text x="1265.5" y="744.0" font-size="16" fill="#131722" font-weight="normal" textLength="16.0" lengthAdjust="spacingAndGlyphs" >27</text>
<text x="1492.7" y="744.0" font-size="16" fill="#131722" font-weight="normal" textLength="7.6" lengthAdjust="spacingAndGlyphs" >6</text>
<text x="1600.5" y="744.0" font-size="16" fill="#131722" font-weight="normal" textLength="16.0" lengthAdjust="spacingAndGlyphs" >11</text>
<text x="1712.5" y="744.0" font-size="16" fill="#131722" font-weight="normal" textLength="16.0" lengthAdjust="spacingAndGlyphs" >14</text>
<text x="-7.5" y="744.0" font-size="16" fill="#131722" font-weight="normal" textLength="16.0" lengthAdjust="spacingAndGlyphs" >10</text>
<text x="579.0" y="744.0" font-size="16" fill="#131722" font-weight="normal" textLength="34.2" lengthAdjust="spacingAndGlyphs" stroke="#131722" stroke-width="0.55">Févr</text>
<text x="1366.8" y="744.0" font-size="16" fill="#131722" font-weight="normal" textLength="35.3" lengthAdjust="spacingAndGlyphs" stroke="#131722" stroke-width="0.55">Mars</text>
<g stroke="#131722" stroke-width="1.1" fill="none" stroke-linecap="round"><circle cx="1803.5" cy="739.5" r="4.9"/>
<line x1="1808.80" y1="739.50" x2="1810.80" y2="739.50"/>
<line x1="1807.25" y1="743.25" x2="1808.66" y2="744.66"/>
<line x1="1803.50" y1="744.80" x2="1803.50" y2="746.80"/>
<line x1="1799.75" y1="743.25" x2="1798.34" y2="744.66"/>
<line x1="1798.20" y1="739.50" x2="1796.20" y2="739.50"/>
<line x1="1799.75" y1="735.75" x2="1798.34" y2="734.34"/>
<line x1="1803.50" y1="734.20" x2="1803.50" y2="732.20"/>
<line x1="1807.25" y1="735.75" x2="1808.66" y2="734.34"/>
</g>
<rect x="0" y="0" width="467" height="23" fill="#fff" fill-opacity="0.47"/>
<rect x="0" y="23" width="176" height="46" fill="#fff" fill-opacity="0.47"/>
<rect x="0" y="69" width="142" height="24" fill="#fff" fill-opacity="0.47"/>
<rect x="0" y="93" width="148" height="24" fill="#fff" fill-opacity="0.47"/>
<text x="6.0" y="17.0" font-size="16" fill="#131722" font-weight="normal" textLength="47.4" lengthAdjust="spacingAndGlyphs" >Euro50</text>
<circle cx="59.7" cy="12" r="1.1" fill="#b8bcc6"/>
<text x="66.1" y="17.0" font-size="16" fill="#131722" font-weight="normal" textLength="16.3" lengthAdjust="spacingAndGlyphs" >4h</text>
<circle cx="106.9" cy="11" r="9" fill="#089981" fill-opacity="0.14"/><circle cx="106.9" cy="11" r="4.1" fill="#089981"/>
<text x="132.2" y="17.0" font-size="13" fill="#50535e" font-weight="normal" textLength="8.4" lengthAdjust="spacingAndGlyphs" >O</text>
<text x="141.6" y="17.0" font-size="13" fill="#26a69a" font-weight="normal" textLength="45.5" lengthAdjust="spacingAndGlyphs" >4861.85</text>
<text x="193.9" y="17.0" font-size="13" fill="#50535e" font-weight="normal" textLength="8.4" lengthAdjust="spacingAndGlyphs" >H</text>
<text x="203.3" y="17.0" font-size="13" fill="#26a69a" font-weight="normal" textLength="45.2" lengthAdjust="spacingAndGlyphs" >4869.88</text>
<text x="255.2" y="17.0" font-size="13" fill="#50535e" font-weight="normal" textLength="7.1" lengthAdjust="spacingAndGlyphs" >B</text>
<text x="263.3" y="17.0" font-size="13" fill="#26a69a" font-weight="normal" textLength="45.2" lengthAdjust="spacingAndGlyphs" >4859.03</text>
<text x="315.2" y="17.0" font-size="13" fill="#50535e" font-weight="normal" textLength="7.5" lengthAdjust="spacingAndGlyphs" >C</text>
<text x="323.7" y="17.0" font-size="13" fill="#26a69a" font-weight="normal" textLength="45.5" lengthAdjust="spacingAndGlyphs" >4863.90</text>
<text x="375.3" y="17.0" font-size="13" fill="#26a69a" font-weight="normal" textLength="31.7" lengthAdjust="spacingAndGlyphs" >+3.33</text>
<text x="412.0" y="17.0" font-size="13" fill="#26a69a" font-weight="normal" textLength="48.2" lengthAdjust="spacingAndGlyphs" >(+0.07%)</text>
<rect x="4.5" y="27.5" width="61" height="37" rx="4" fill="#fff" stroke="#f0524a"/>
<text x="12.0" y="51.0" font-size="13" fill="#f0524a" font-weight="normal" textLength="45.6" lengthAdjust="spacingAndGlyphs" >4863.90</text>
<text x="78.0" y="38.0" font-size="11" fill="#50535e" font-weight="normal" textLength="20.0" lengthAdjust="spacingAndGlyphs" >1.32</text>
<rect x="70" y="43" width="36" height="22" rx="4" fill="#f5f6fb"/>
<text x="78.4" y="58.0" font-size="13" fill="#131722" font-weight="normal" textLength="19.6" lengthAdjust="spacingAndGlyphs" >200</text>
<rect x="110.5" y="27.5" width="61" height="37" rx="4" fill="#fff" stroke="#26a69a"/>
<text x="119.0" y="51.0" font-size="13" fill="#26a69a" font-weight="normal" textLength="44.4" lengthAdjust="spacingAndGlyphs" >4865.22</text>
<text x="5.4" y="86.0" font-size="12" fill="#3a3e49" font-weight="normal" textLength="78.2" lengthAdjust="spacingAndGlyphs" >EMA 8 close 0</text>
<text x="92.4" y="86.0" font-size="12" fill="#e91e63" font-weight="normal" textLength="44.8" lengthAdjust="spacingAndGlyphs" >4861.97</text>
<text x="5.4" y="110.0" font-size="12" fill="#3a3e49" font-weight="normal" textLength="85.2" lengthAdjust="spacingAndGlyphs" >EMA 13 close 0</text>
<text x="99.4" y="110.0" font-size="12" fill="#9c27b0" font-weight="normal" textLength="44.2" lengthAdjust="spacingAndGlyphs" >4853.37</text>
<rect x="5.5" y="119.5" width="28" height="20" rx="3" fill="#fff" fill-opacity="0.85" stroke="#d1d4dc"/>
<path d="M15.6,131.2 L19.5,127.6 L23.4,131.2" fill="none" stroke="#131722" stroke-width="1.4" stroke-linecap="round" stroke-linejoin="round"/>
<text x="1338.0" y="141.0" font-size="12" fill="#4caf50" font-weight="normal" textLength="80.0" lengthAdjust="spacingAndGlyphs" >0.786(4855.89)</text>
<text x="5.0" y="552.0" font-size="12" fill="#2a2e39" font-weight="normal" textLength="32.5" lengthAdjust="spacingAndGlyphs" >MACD</text>
<text x="42.0" y="552.0" font-size="12" fill="#5d606b" font-weight="normal" textLength="68.0" lengthAdjust="spacingAndGlyphs" >9 19 close 6</text>
<text x="118.8" y="552.0" font-size="12" fill="#ff5252" font-weight="normal" textLength="31.2" lengthAdjust="spacingAndGlyphs" >−3.26</text>
<text x="157.3" y="552.0" font-size="12" fill="#2196f3" font-weight="normal" textLength="30.7" lengthAdjust="spacingAndGlyphs" >19.29</text>
<text x="195.0" y="552.0" font-size="12" fill="#ff6d00" font-weight="normal" textLength="31.0" lengthAdjust="spacingAndGlyphs" >22.55</text>
</svg>
</body></html>
